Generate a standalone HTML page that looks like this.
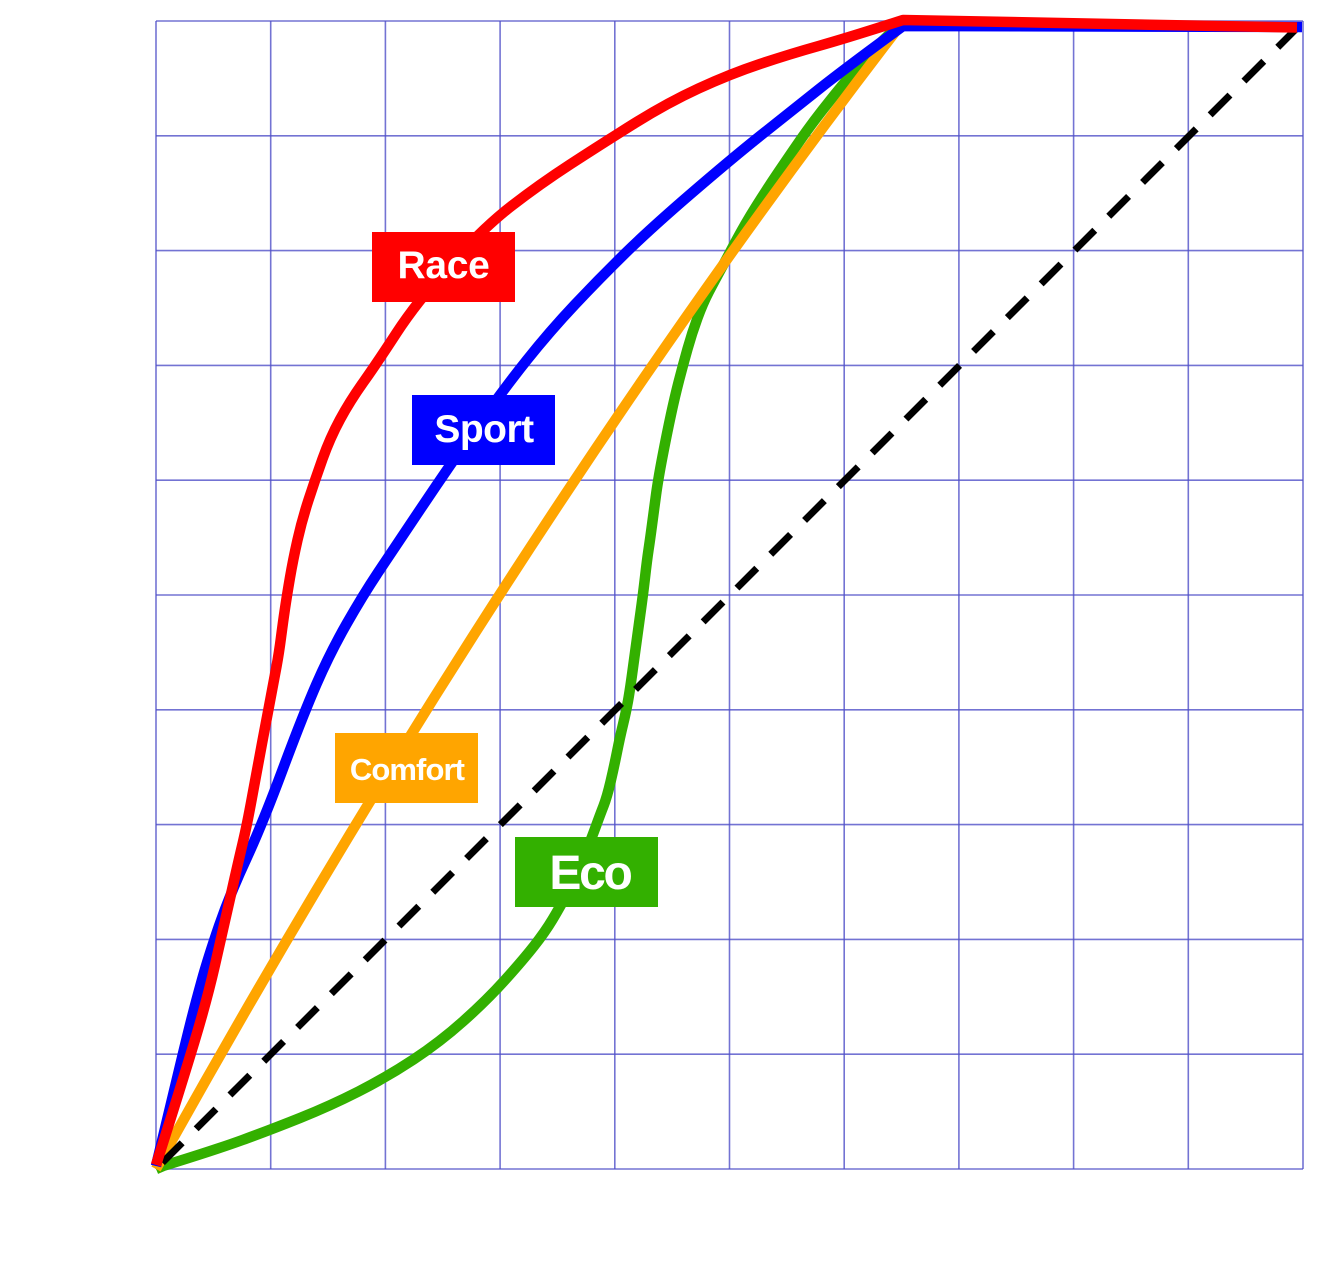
<!DOCTYPE html>
<html>
<head>
<meta charset="utf-8">
<style>
  html, body { margin: 0; padding: 0; background: #ffffff; }
  body { width: 1333px; height: 1285px; overflow: hidden; }
  svg { display: block; }
  .lbl { font-family: "Liberation Sans", Arial, sans-serif; font-weight: bold; fill: #ffffff; }
</style>
</head>
<body>
<svg width="1333" height="1285" viewBox="0 0 1333 1285" xmlns="http://www.w3.org/2000/svg">
  <rect x="0" y="0" width="1333" height="1285" fill="#ffffff"/>
  <!-- grid -->
  <g stroke="rgb(80,80,200)" stroke-opacity="0.8" stroke-width="1.6" fill="none">
    <line x1="156" y1="21" x2="156" y2="1169"/>
    <line x1="270.7" y1="21" x2="270.7" y2="1169"/>
    <line x1="385.4" y1="21" x2="385.4" y2="1169"/>
    <line x1="500.1" y1="21" x2="500.1" y2="1169"/>
    <line x1="614.8" y1="21" x2="614.8" y2="1169"/>
    <line x1="729.5" y1="21" x2="729.5" y2="1169"/>
    <line x1="844.2" y1="21" x2="844.2" y2="1169"/>
    <line x1="958.9" y1="21" x2="958.9" y2="1169"/>
    <line x1="1073.6" y1="21" x2="1073.6" y2="1169"/>
    <line x1="1188.3" y1="21" x2="1188.3" y2="1169"/>
    <line x1="1303" y1="21" x2="1303" y2="1169"/>

    <line x1="156" y1="21" x2="1303" y2="21"/>
    <line x1="156" y1="135.8" x2="1303" y2="135.8"/>
    <line x1="156" y1="250.6" x2="1303" y2="250.6"/>
    <line x1="156" y1="365.4" x2="1303" y2="365.4"/>
    <line x1="156" y1="480.2" x2="1303" y2="480.2"/>
    <line x1="156" y1="595" x2="1303" y2="595"/>
    <line x1="156" y1="709.8" x2="1303" y2="709.8"/>
    <line x1="156" y1="824.6" x2="1303" y2="824.6"/>
    <line x1="156" y1="939.4" x2="1303" y2="939.4"/>
    <line x1="156" y1="1054.2" x2="1303" y2="1054.2"/>
    <line x1="156" y1="1169" x2="1303" y2="1169"/>
  </g>

  <!-- Eco (green) -->
  <path fill="none" stroke="#33b000" stroke-width="10.5" stroke-linejoin="round"
    d="M156,1169 L163,1166 Q215,1150 242.5,1140 Q270,1130 300,1118 Q330,1106 358.5,1091.5 Q387,1077 413.5,1059.5 Q440,1042 463.5,1021 Q487,1000 505,980 Q523,960 534,946 Q545,932 552.5,919.5 Q560,907 568.5,891 Q577,875 584.5,856 Q592,837 596,826 Q600,815 603.5,806 Q607,797 610.5,782 Q614,767 617,752 Q620,737 623,724.5 Q626,712 628,701 Q630,690 633,667.5 Q636,645 639.5,620 Q643,595 645,577.5 Q647,560 648.5,550 Q650,540 652,525 Q654,510 656,495 Q658,480 662.5,456.5 Q667,433 671,414.5 Q675,396 679,380.5 Q683,365 687.5,349 Q692,333 697.5,318 Q703,303 709,291.5 Q715,280 721,269 Q727,258 736,241 Q745,224 756,206.5 Q767,189 778.5,172 Q790,155 800,140.5 Q810,126 822.5,110 Q835,94 847.5,79 Q860,64 870,53.5 Q880,43 902,22"/>

  <!-- Comfort (orange) -->
  <path d="M156,1169 Q510,532 902,23" fill="none" stroke="#ffa500" stroke-width="10.5"/>

  <!-- dashed diagonal -->
  <line x1="156" y1="1169" x2="1300" y2="25" stroke="#000000" stroke-width="7"
        stroke-dasharray="28 19.8" stroke-dashoffset="38.8"/>

  <!-- Sport (blue) -->
  <path fill="none" stroke="#0000ff" stroke-width="10.5" stroke-linejoin="round"
    d="M156,1166 Q170,1108 177.5,1076.5 Q185,1045 190,1025 Q195,1005 201.5,981.5 Q208,958 219,926 Q230,894 246,859.5 Q262,825 282.5,770 Q303,715 316.5,684 Q330,653 346.5,624 Q363,595 378,572.5 Q393,550 421.5,507.5 Q450,465 476.5,427.5 Q503,390 526.5,360.5 Q550,331 575,304.5 Q600,278 625,253.5 Q650,229 690,194.5 Q730,160 760,136 Q790,112 818.5,89.5 Q847,67 903,26 L1302,27"/>

  <!-- Race (red) -->
  <path fill="none" stroke="#ff0000" stroke-width="10.5" stroke-linejoin="round"
    d="M156,1165 Q182,1083 194.5,1041.5 Q207,1000 215,965 Q223,930 230.5,896.5 Q238,863 242.5,844 Q247,825 252,797.5 Q257,770 262,743.5 Q267,717 270.5,698.5 Q274,680 276.5,666.5 Q279,653 281,637.5 Q283,622 285,608.5 Q287,595 290,577.5 Q293,560 297.5,540 Q302,520 308.5,500 Q315,480 322.5,459 Q330,438 340,419.5 Q350,401 363.5,382 Q377,363 396.5,333 Q416,303 449.5,265.5 Q483,228 511.5,206 Q540,184 570,164.5 Q600,145 633.5,124 Q667,103 698.5,88.5 Q730,74 760,64 Q790,54 818.5,46 Q847,38 903,20 L1297,27.5"/>

  <!-- labels -->
  <rect x="372" y="232" width="143" height="70" fill="#ff0000"/>
  <text class="lbl" x="443.5" y="278" font-size="39" letter-spacing="-0.3" text-anchor="middle">Race</text>

  <rect x="412" y="395" width="143" height="70" fill="#0000ff"/>
  <text class="lbl" x="484" y="442" font-size="39" letter-spacing="-0.5" text-anchor="middle">Sport</text>

  <rect x="335" y="733" width="143" height="70" fill="#ffa500"/>
  <text class="lbl" x="407" y="780" font-size="31" letter-spacing="-0.9" text-anchor="middle">Comfort</text>

  <rect x="515" y="837" width="143" height="70" fill="#33b000"/>
  <text class="lbl" x="590" y="889" font-size="48" letter-spacing="-2.3" text-anchor="middle">Eco</text>
</svg>
</body>
</html>
